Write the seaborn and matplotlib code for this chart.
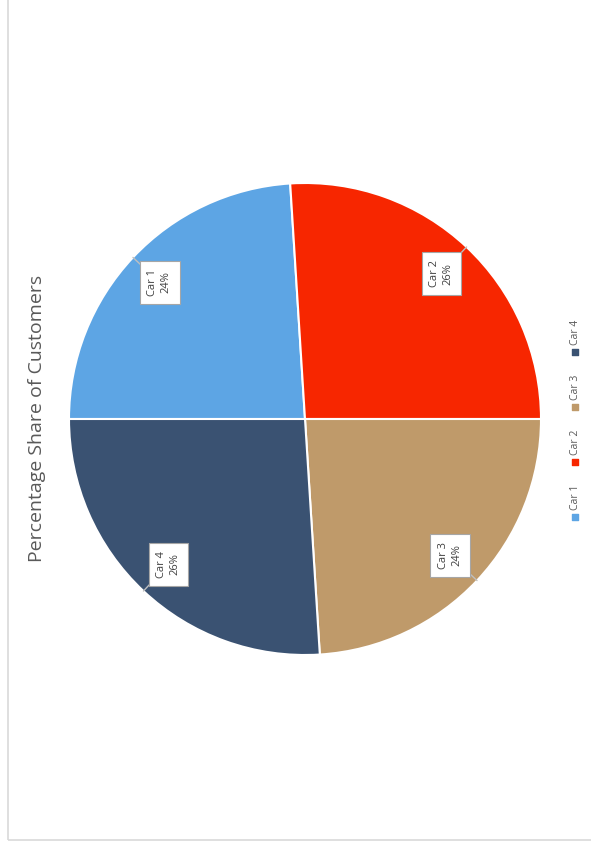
import numpy as np
import matplotlib
matplotlib.use("Agg")
import matplotlib.pyplot as plt
import seaborn as sns
from matplotlib.patches import Rectangle

cars = ["Car 1", "Car 2", "Car 3", "Car 4"]
share = [24, 26, 24, 26]
colors = ["#5DA5E4", "#F72600", "#BF9A6A", "#3A5272"]
title = "Percentage Share of Customers"

sns.set_style("white")
plt.rcParams["font.family"] = ["Open Sans", "DejaVu Sans"]

fig = plt.figure(figsize=(5.91, 8.5), dpi=100)
W, H = 591, 850

# chart frame (cut off on top/right like the screenshot)
fig.patches.append(Rectangle((8 / W, 10 / H), 1.0, 1.0, transform=fig.transFigure,
                             fill=False, edgecolor="#d9d9d9", linewidth=1.2))

# pie axes: centre (305, 419) px, radius 236 px
cx, cy, r = 305, 419, 236
ax = fig.add_axes([(cx - r) / W, (H - cy - r) / H, 2 * r / W, 2 * r / H])
wedges, _ = ax.pie(share, colors=colors, startangle=180, counterclock=False,
                   radius=1.0, wedgeprops=dict(edgecolor="white", linewidth=1.5))
ax.set_xlim(-1, 1)
ax.set_ylim(-1, 1)
ax.set_aspect("equal")
ax.axis("off")

# rotated data labels with leader lines
for w, name, val in zip(wedges, cars, share):
    mid = np.deg2rad((w.theta1 + w.theta2) / 2)
    lx, ly = 0.845 * np.cos(mid), 0.845 * np.sin(mid)
    ax.plot([lx, np.cos(mid)], [ly, np.sin(mid)], color="#bfbfbf", lw=1, zorder=3)
    ax.text(lx, ly, f"{name}\n{val}%", rotation=90, ha="center", va="center",
            fontsize=8, color="#404040", linespacing=1.3, zorder=5,
            bbox=dict(boxstyle="square,pad=0.7", fc="white", ec="#a6a6a6", lw=0.8))

# title, rotated
fig.text(37 / W, 1 - 418 / H, title, rotation=90, ha="center", va="center",
         fontsize=14, color="#595959")

# legend, rotated, drawn bottom-to-top
leg = fig.add_axes([560 / W, 0, 30 / W, 1])
leg.set_xlim(0, 1)
leg.set_ylim(H, 0)
leg.axis("off")
start, step = 517, 55
for i, (name, c) in enumerate(zip(cars, colors)):
    y = start - i * step
    leg.scatter([0.5], [y], marker="s", s=14, color=c)
    leg.text(0.5, y - 7, name, rotation=90, ha="center", va="bottom",
             fontsize=7.5, color="#595959")

fig.savefig("out.png", dpi=100)
